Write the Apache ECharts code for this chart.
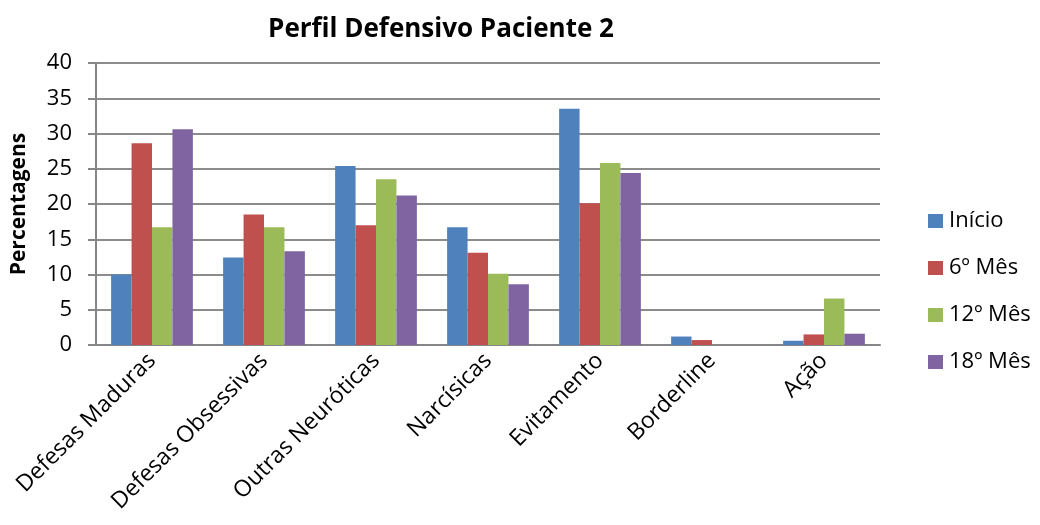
<!DOCTYPE html>
<html>
<head>
<meta charset="utf-8">
<script src="https://cdn.jsdelivr.net/npm/echarts@6/dist/echarts.min.js"></script>
<style>
  html, body { margin: 0; padding: 0; background: #fff; }
  #chart { width: 1040px; height: 525px; }
</style>
</head>
<body>
<div id="chart"></div>
<script>
const categories = ["Defesas Maduras", "Defesas Obsessivas", "Outras Neuróticas", "Narcísicas", "Evitamento", "Borderline", "Ação"];
const inicio = [10.0, 12.4, 25.4, 16.7, 33.5, 1.2, 0.6];
const mes6 = [28.6, 18.5, 17.0, 13.1, 20.1, 0.7, 1.5];
const mes12 = [16.7, 16.7, 23.5, 10.1, 25.8, 0, 6.6];
const mes18 = [30.6, 13.3, 21.2, 8.6, 24.4, 0, 1.6];
const seriesNames = ["Início", "6º Mês", "12º Mês", "18º Mês"];
const yTicks = [0, 5, 10, 15, 20, 25, 30, 35, 40];

const font = "'Open Sans', sans-serif";
const colors = ["#4F81BD", "#C0504D", "#9BBB59", "#8064A2"];

const chart = echarts.init(document.getElementById("chart"));

const series = [inicio, mes6, mes12, mes18].map((data, i) => ({
  name: seriesNames[i],
  type: "bar",
  data,
  barGap: "0%",
  barCategoryGap: "27%",
  itemStyle: { color: colors[i] },
}));

chart.setOption({
  animation: false,
  color: colors,
  title: {
    text: "Perfil Defensivo Paciente 2",
    left: 436,
    top: 12,
    textAlign: "center",
    textStyle: { fontFamily: font, fontSize: 26, fontWeight: "bold", color: "#000" },
  },
  legend: {
    orient: "vertical",
    left: 923,
    top: 205,
    itemGap: 25,
    itemWidth: 15,
    itemHeight: 14,
    icon: "rect",
    data: seriesNames,
    textStyle: { fontFamily: font, fontSize: 22, color: "#000", padding: [0, 0, 0, 1] },
  },
  grid: { left: 96, right: 160, top: 63, bottom: 180 },
  xAxis: {
    type: "category",
    data: categories,
    axisLine: { lineStyle: { color: "#868686", width: 2 } },
    axisTick: { show: false },
    axisLabel: {
      rotate: 45,
      interval: 0,
      margin: 12,
      fontFamily: font,
      fontSize: 23,
      color: "#000",
    },
  },
  yAxis: {
    type: "value",
    min: 0,
    max: 40,
    interval: 5,
    name: "Percentagens",
    nameLocation: "middle",
    nameGap: 66,
    nameTextStyle: { fontFamily: font, fontSize: 21, fontWeight: "bold", color: "#000" },
    axisLine: { show: true, lineStyle: { color: "#868686", width: 2 } },
    axisTick: { show: true, length: 8, lineStyle: { color: "#868686", width: 2 } },
    splitLine: { lineStyle: { color: "#8C8C8C", width: 2 } },
    axisLabel: {
      fontFamily: font,
      fontSize: 22,
      color: "#000",
      margin: 24,
      formatter: (v) => (yTicks.includes(v) ? String(v) : ""),
    },
  },
  series,
});
</script>
</body>
</html>
